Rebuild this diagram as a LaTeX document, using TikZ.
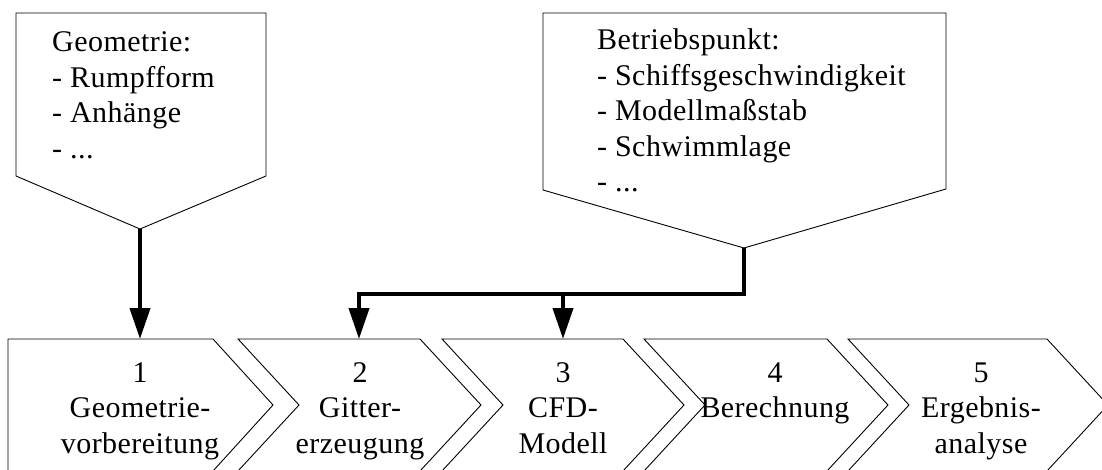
\documentclass[tikz,border=0pt]{standalone}
\usepackage{fontspec}
\setmainfont{Liberation Serif}[LetterSpace=1.5]
\usetikzlibrary{arrows.meta}
\tikzset{
  outline/.style={draw=black, line width=0.9pt, line join=miter},
  conn/.style={draw=black, line width=4pt, -{Triangle[width=20pt,length=31pt]}},
  listtext/.style={anchor=base west, inner sep=0pt, align=left,
    font=\fontsize{30}{35.5}\selectfont},
  steptext/.style={anchor=base, inner sep=0pt, align=center,
    font=\fontsize{30}{35.5}\selectfont}
}
\begin{document}
\begin{tikzpicture}[x=1pt, y=-1pt]
\useasboundingbox (0,0) rectangle (1102,470);
% input boxes
\draw[outline] (16,13) -- (266,13) -- (266,176) -- (140,229) -- (16,176) -- cycle;
\coordinate (geoTip) at (140,229);
\draw[outline] (543,13) -- (946,13) -- (946,189) -- (744,248) -- (543,190) -- cycle;
\coordinate (opTip) at (744,248);
% anchor base = baseline of the last line
\node[listtext] (geo) at (52,158.5) {Geometrie:\\- Rumpfform\\- Anhänge\\- ...};
\node[listtext] (op) at (597,192) {Betriebspunkt:\\- Schiffsgeschwindigkeit\\- Modellmaßstab\\- Schwimmlage\\- ...};
% process chevrons
\draw[outline] (8,339) -- (213,339) -- (273,405) -- (213,471) -- (8,471) -- cycle;
\draw[outline] (238,339) -- (420,339) -- (481,405) -- (420,471) -- (238,471) -- (299,405) -- cycle;
\draw[outline] (442,339) -- (623,339) -- (684,405) -- (623,471) -- (442,471) -- (503,405) -- cycle;
\draw[outline] (644,339) -- (827,339) -- (888,405) -- (827,471) -- (644,471) -- (705,405) -- cycle;
\draw[outline] (848,339) -- (1047,339) -- (1108,405) -- (1047,471) -- (848,471) -- (909,405) -- cycle;
\coordinate (s1top) at (140,339);
\coordinate (s2top) at (359,339);
\coordinate (s3top) at (563,339);
\node[steptext] (s1) at (140,453) {1\\Geometrie-\\vorbereitung};
\node[steptext] (s2) at (360,453) {2\\Gitter-\\erzeugung};
\node[steptext] (s3) at (563,453) {3\\CFD-\\Modell};
\node[steptext] (s4) at (775,417.5) {4\\Berechnung};
\node[steptext] (s5) at (981,453) {5\\Ergebnis-\\analyse};
% connectors
\coordinate (bend) at (744,294);
\coordinate (branch) at (563,294);
\draw[conn] (geoTip) -- (s1top);
\draw[conn] (opTip) -- (bend) -| (s2top);
\draw[conn] (branch) -- (s3top);
\end{tikzpicture}
\end{document}
